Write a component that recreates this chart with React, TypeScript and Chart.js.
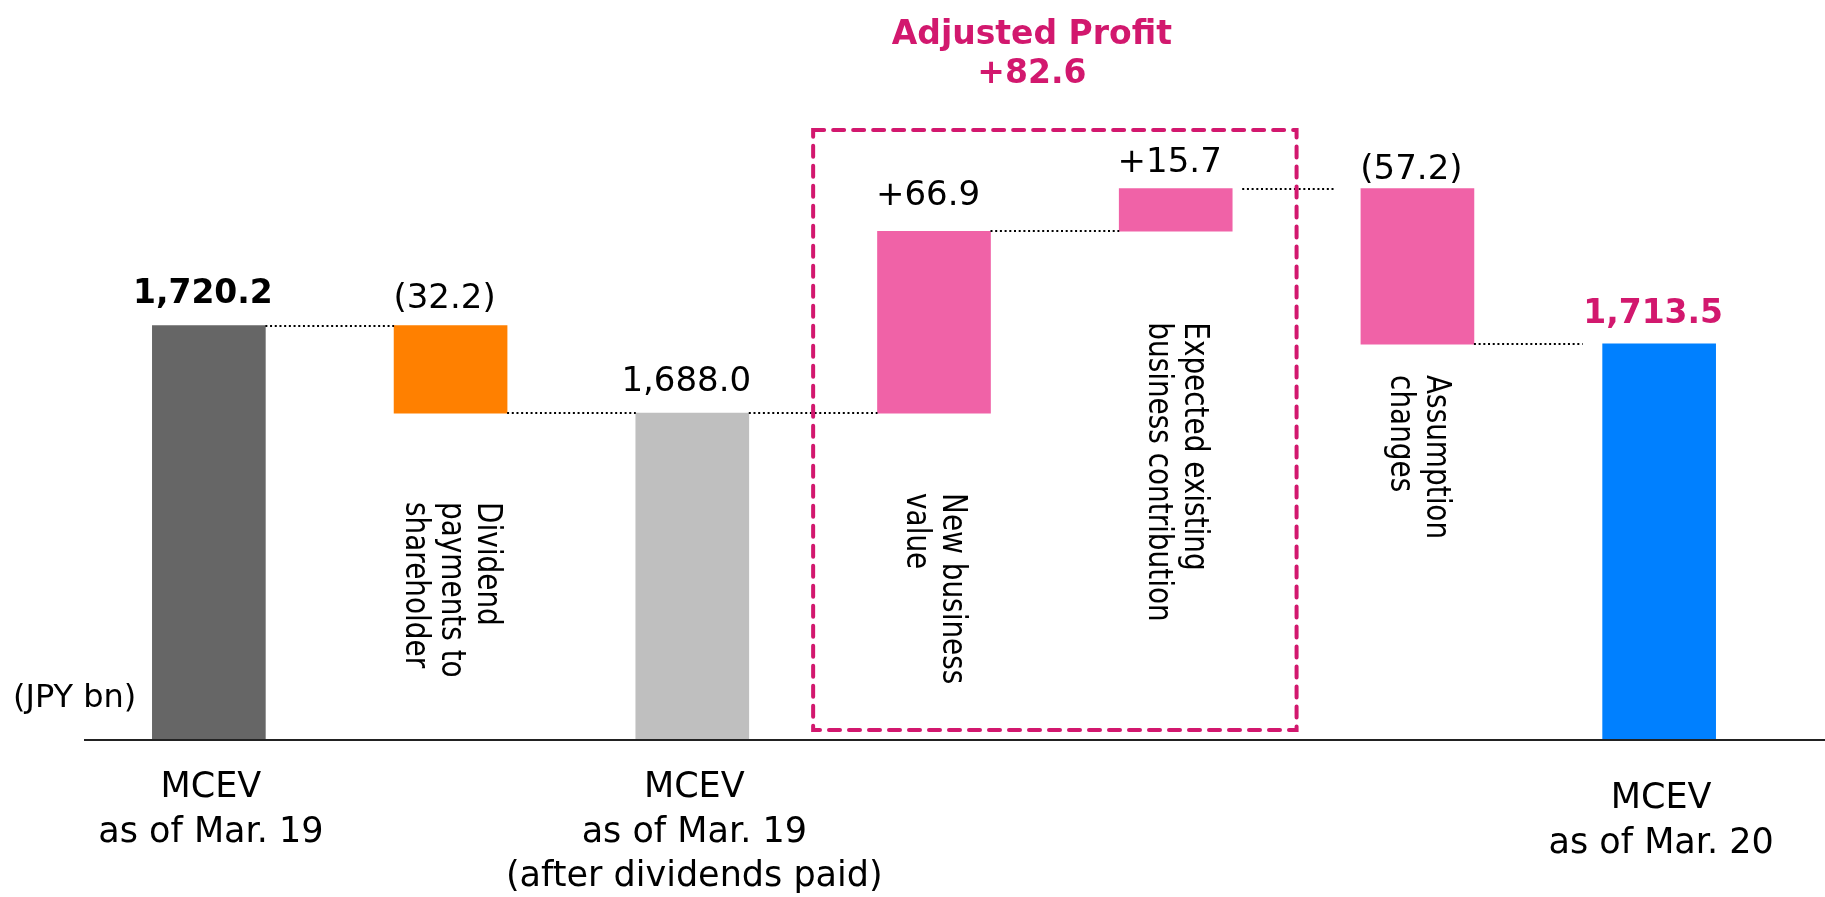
import React, { useEffect, useRef } from "react";
import { Chart, registerables } from "chart.js";

Chart.register(...registerables);

// ---------- data ----------
const categories = [
  "MCEV as of Mar. 19",
  "Dividend payments to shareholder",
  "MCEV as of Mar. 19 (after dividends paid)",
  "New business value",
  "Expected existing business contribution",
  "Assumption changes",
  "MCEV as of Mar. 20",
];
const axisLabels: string[][] = [
  ["MCEV", "as of Mar. 19"],
  [],
  ["MCEV", "as of Mar. 19", "(after dividends paid)"],
  [],
  [],
  [],
  ["MCEV", "as of Mar. 20"],
];
const innerLabels: string[][] = [
  [],
  ["Dividend", "payments to", "shareholder"],
  [],
  ["New business", "value"],
  ["Expected existing", "business contribution"],
  ["Assumption", "changes"],
  [],
];
const values = [1720.2, -32.2, 1688.0, 66.9, 15.7, -57.2, 1713.5];
const isTotal = [true, false, true, false, false, false, true];
const valueLabels = ["1,720.2", "(32.2)", "1,688.0", "+66.9", "+15.7", "(57.2)", "1,713.5"];
const groupTitle = ["Adjusted Profit", "+82.6"];
const groupFirst = 3;
const groupLast = 4;
const unitLabel = "(JPY bn)";

// ---------- styles ----------
const barColors = ["#666666", "#FF8000", "#BFBFBF", "#F062A7", "#F062A7", "#F062A7", "#0080FF"];
const labelBold = [true, false, false, false, false, false, true];
const labelColors = ["#000000", "#000000", "#000000", "#000000", "#000000", "#000000", "#D2186E"];
const labelGap = [23, 18, 22, 26, 17, 10, 21];
const innerLabelGap = [0, 89, 0, 80, 91, 31, 0];
const axisLabelDy = [0, 0, 0, 0, 0, 0, 11];
const connectorGaps = [[0, 0], [0, 0], [0, 0], [0, 0], [10, 27], [0, 20]];
const MAGENTA = "#D2186E";
const FONT = "'DejaVu Sans', Verdana, sans-serif";

// floating bars built from values
const barData: (number | number[])[] = [];
const levels: number[] = [];
{
  let running = 0;
  values.forEach((v, i) => {
    if (isTotal[i]) {
      running = v;
      barData.push(v);
    } else {
      const start = running;
      running = Math.round((running + v) * 10) / 10;
      barData.push([Math.min(start, running), Math.max(start, running)]);
    }
    levels.push(running);
  });
}

const decorPlugin = {
  id: "waterfallDecor",
  afterDatasetsDraw(chart: any) {
    const ctx: CanvasRenderingContext2D = chart.ctx;
    const xs = chart.scales.x;
    const ys = chart.scales.y;
    const area = chart.chartArea;
    const bars = chart.getDatasetMeta(0).data;

    ctx.save();
    // axis line
    ctx.strokeStyle = "#222";
    ctx.lineWidth = 2;
    ctx.beginPath();
    ctx.moveTo(84, area.bottom);
    ctx.lineTo(chart.width, area.bottom);
    ctx.stroke();

    // connectors
    ctx.strokeStyle = "#000";
    ctx.lineWidth = 2;
    ctx.setLineDash([2, 2.7]);
    for (let i = 0; i < bars.length - 1; i++) {
      const a = bars[i];
      const b = bars[i + 1];
      const y = Math.round(ys.getPixelForValue(levels[i]));
      ctx.beginPath();
      ctx.moveTo(a.x + a.width / 2 + connectorGaps[i][0], y);
      ctx.lineTo(b.x - b.width / 2 - connectorGaps[i][1], y);
      ctx.stroke();
    }
    ctx.setLineDash([]);

    // value labels
    ctx.textAlign = "center";
    ctx.textBaseline = "alphabetic";
    bars.forEach((bar: any, i: number) => {
      const top = Math.min(bar.y, bar.base);
      ctx.font = labelBold[i] ? `bold 33px ${FONT}` : `34px ${FONT}`;
      ctx.fillStyle = labelColors[i];
      ctx.fillText(valueLabels[i], bar.x - 6, top - labelGap[i]);
    });

    // rotated inner labels
    ctx.fillStyle = "#000";
    ctx.font = `34px ${FONT}`;
    bars.forEach((bar: any, i: number) => {
      const lines = innerLabels[i];
      if (!lines.length) return;
      const bottom = Math.max(bar.y, bar.base);
      const lh = 36;
      ctx.save();
      ctx.translate(bar.x, bottom + innerLabelGap[i]);
      ctx.rotate(Math.PI / 2);
      ctx.scale(0.82, 1);
      ctx.textAlign = "left";
      ctx.textBaseline = "middle";
      lines.forEach((ln, k) => {
        ctx.fillText(ln, 0, (k - (lines.length - 1) / 2) * lh);
      });
      ctx.restore();
    });

    // category labels below axis
    ctx.font = `35px ${FONT}`;
    ctx.fillStyle = "#000";
    ctx.textAlign = "center";
    ctx.textBaseline = "alphabetic";
    bars.forEach((bar: any, i: number) => {
      axisLabels[i].forEach((ln, k) => {
        ctx.fillText(ln, bar.x + 2, area.bottom + 57 + axisLabelDy[i] + k * 44.7);
      });
    });

    // unit label
    ctx.font = `32px ${FONT}`;
    ctx.textAlign = "left";
    ctx.fillText(unitLabel, 13, 707);

    // dashed group box
    const left = xs.getPixelForValue(groupFirst - 0.5);
    const right = xs.getPixelForValue(groupLast + 0.5);
    const boxTop = 130;
    const boxBottom = area.bottom - 10;
    ctx.strokeStyle = MAGENTA;
    ctx.lineWidth = 4;
    ctx.lineCap = "round";
    ctx.setLineDash([11, 9]);
    ctx.strokeRect(left, boxTop, right - left, boxBottom - boxTop);
    ctx.setLineDash([]);

    // group title
    ctx.fillStyle = MAGENTA;
    ctx.font = `bold 33px ${FONT}`;
    ctx.textAlign = "center";
    const cx = (left + right) / 2 - 23;
    ctx.fillText(groupTitle[0], cx, 44);
    ctx.fillText(groupTitle[1], cx, 83);
    ctx.restore();
  },
};

export default function App() {
  const ref = useRef<HTMLCanvasElement | null>(null);
  useEffect(() => {
    if (!ref.current) return;
    const chart = new Chart(ref.current, {
      type: "bar",
      data: {
        labels: categories,
        datasets: [
          {
            data: barData as any,
            backgroundColor: barColors,
            borderWidth: 0,
            barThickness: 113,
          },
        ],
      },
      options: {
        responsive: false,
        animation: false,
        events: [],
        layout: { padding: { left: 88, right: 45, top: 0, bottom: 157 } },
        plugins: { legend: { display: false }, tooltip: { enabled: false }, title: { display: false } },
        scales: {
          x: { display: false, offset: true },
          y: { display: false, min: 1567.7, max: 1840 },
        },
      },
      plugins: [decorPlugin],
    });
    return () => chart.destroy();
  }, []);
  return (
    <div style={{ position: "absolute", left: 0, top: 0, width: 1825, height: 897, background: "#fff" }}>
      <canvas ref={ref} width={1825} height={897} style={{ display: "block" }} />
    </div>
  );
}
